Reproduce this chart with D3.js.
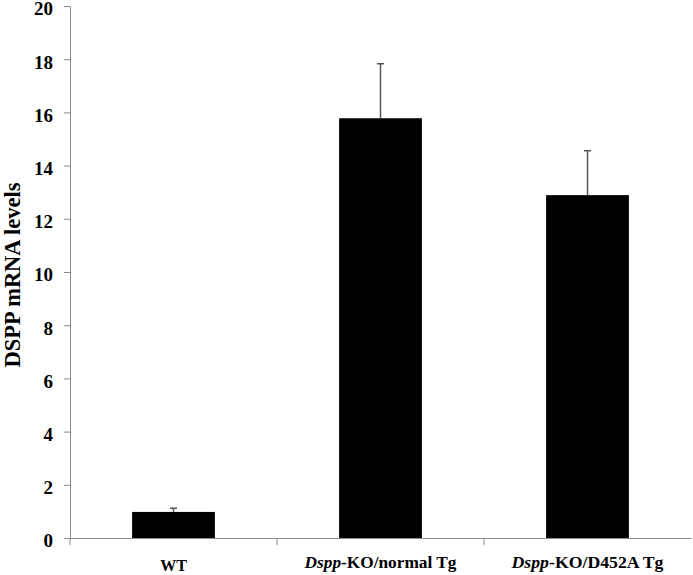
<!DOCTYPE html>
<html><head><meta charset="utf-8">
<script src="https://cdn.jsdelivr.net/npm/d3@7"></script>
<style>body{margin:0;background:#fff}</style>
</head><body>
<svg id="c" width="693" height="575"></svg>
<script>
const categories = ["WT", "Dspp-KO/normal Tg", "Dspp-KO/D452A Tg"];
const values = [0.98, 15.78, 12.89];
const errors = [0.14, 2.05, 1.67];
const yTicks = [0, 2, 4, 6, 8, 10, 12, 14, 16, 18, 20];

const svg = d3.select("#c");
const x = d3.scaleBand().domain(categories).range([70, 691]).padding(0);
const y = d3.scaleLinear().domain([0, 20]).range([538, 6]);
const bw = x.bandwidth() * 0.4;
const axisCol = "#8c8c8c";

// y axis
const ya = svg.append("g").attr("transform", "translate(70,0)")
  .call(d3.axisLeft(y).tickValues(yTicks).tickSize(6).tickPadding(11).tickSizeOuter(0));
ya.select(".domain").attr("stroke", axisCol);
ya.selectAll(".tick line").attr("stroke", axisCol);
ya.selectAll(".tick text").style("font-family", "'Liberation Serif', serif").style("font-weight", "bold")
  .style("font-size", "19px").attr("fill", "#000").attr("dy", "0.47em");

// x axis
const xa = svg.append("g").attr("transform", "translate(0,538)")
  .call(d3.axisBottom(x).tickSize(0).tickSizeOuter(0).tickFormat(""));
xa.select(".domain").attr("stroke", axisCol);
xa.selectAll(".tick line").remove();
svg.append("g").selectAll("line").data(categories.slice(1)).join("line")
  .attr("x1", d => x(d)).attr("x2", d => x(d))
  .attr("y1", 538).attr("y2", 545).attr("stroke", axisCol);
svg.append("line").attr("x1", 70).attr("x2", 70).attr("y1", 538).attr("y2", 545).attr("stroke", axisCol);

// bars
svg.append("g").selectAll("rect").data(values).join("rect")
  .attr("x", (d, i) => x(categories[i]) + x.bandwidth() / 2 - bw / 2)
  .attr("y", d => y(d)).attr("width", bw).attr("height", d => y(0) - y(d))
  .attr("fill", "#000");

// error bars
const eg = svg.append("g").attr("stroke", "#555").attr("stroke-width", 1.5);
values.forEach((v, i) => {
  const cx = x(categories[i]) + x.bandwidth() / 2;
  eg.append("line").attr("x1", cx).attr("x2", cx).attr("y1", y(v)).attr("y2", y(v + errors[i]));
  eg.append("line").attr("x1", cx - 3.5).attr("x2", cx + 3.5).attr("y1", y(v + errors[i])).attr("y2", y(v + errors[i]));
});

// x labels
const lab = svg.append("g").selectAll("text").data(categories).join("text")
  .attr("x", d => x(d) + x.bandwidth() / 2)
  .attr("y", (d, i) => i === 0 ? 571 : 568)
  .attr("text-anchor", "middle").style("font-weight", "bold").attr("fill", "#000")
  .style("font-family", "'Liberation Serif', serif");
lab.each(function(d, i) {
  const t = d3.select(this);
  if (i === 0) {
    t.style("font-size", "16px").text(d);
  } else {
    t.style("font-size", "18px");
    const parts = d.split("-");
    t.append("tspan").style("font-style", "italic").text(parts[0]);
    t.append("tspan").text("-" + parts.slice(1).join("-"));
    const w = this.getComputedTextLength();
    t.style("font-size", (18 * 152 / w) + "px");
  }
});

// y label
const yl = svg.append("text").attr("transform", "translate(20,275) rotate(-90)")
  .attr("text-anchor", "middle").style("font-family", "'Liberation Serif', serif")
  .style("font-weight", "bold").style("font-size", "20px").attr("fill", "#000")
  .text("DSPP mRNA levels");
const yw = yl.node().getComputedTextLength();
yl.style("font-size", (20 * 185 / yw) + "px");
</script>
</body></html>
